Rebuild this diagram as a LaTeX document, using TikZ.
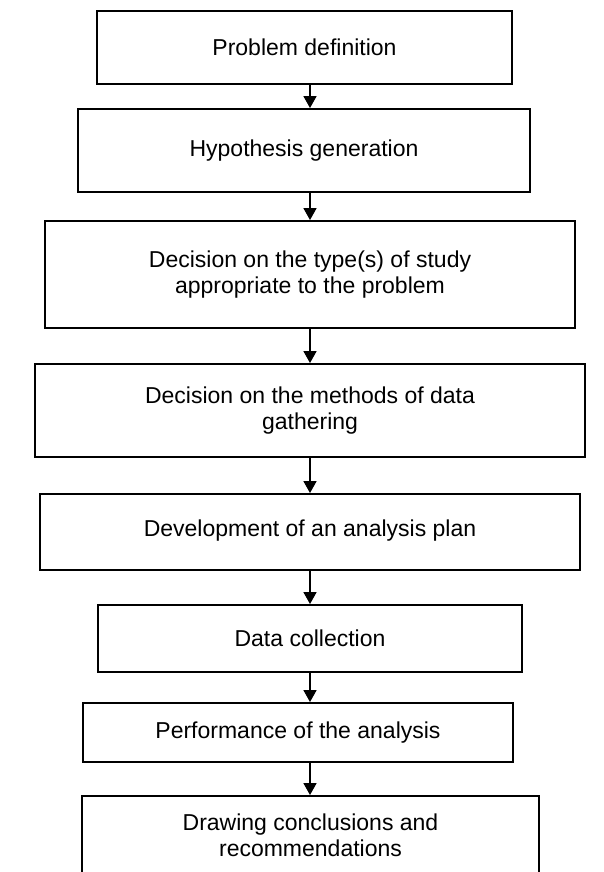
\documentclass[tikz,border=0pt]{standalone}
\usepackage{fontspec}
\setmainfont{Liberation Sans}
\usetikzlibrary{arrows.meta}
\begin{document}
\begin{tikzpicture}[x=1pt,y=-1pt,
  stepbox/.style={draw=black, line width=1.9pt, fill=white, inner sep=0pt,
    align=center, font=\fontsize{23}{26}\selectfont},
  flow/.style={draw=black, line width=1.6pt,
    -{Triangle[width=13pt,length=12pt]}}]
\useasboundingbox (0,0) rectangle (603,872);
\clip (0,0) rectangle (603,872);
\fill[white] (0,0) rectangle (603,872);

% boxes, from top to bottom
\node[stepbox, minimum width=415pt, minimum height=73pt] (b1) at (304.5,47.5) {Problem definition};
\node[stepbox, minimum width=452pt, minimum height=83pt] (b2) at (304,150.5) {Hypothesis generation};
\node[stepbox, minimum width=530pt, minimum height=107pt] (b3) at (310,274.5)
  {Decision on the type(s) of study\\appropriate to the problem};
\node[stepbox, minimum width=550pt, minimum height=93pt] (b4) at (310,410.5)
  {Decision on the methods of data\\gathering};
\node[stepbox, minimum width=540pt, minimum height=76pt] (b5) at (310,532)
  {\raisebox{7pt}{Development of an analysis plan}};
\node[stepbox, minimum width=424pt, minimum height=67pt] (b6) at (310,638.5) {Data collection};
\node[stepbox, minimum width=430pt, minimum height=59pt] (b7) at (298,732.5) {Performance of the analysis};
\node[stepbox, minimum width=457pt, minimum height=79pt] (b8) at (310.5,835.5)
  {Drawing conclusions and\\recommendations};

% common vertical line of the arrows
\coordinate (ax) at (310,0);

\draw[flow] (b1.south -| ax) -- (b2.north -| ax);
\draw[flow] (b2.south -| ax) -- (b3.north -| ax);
\draw[flow] (b3.south -| ax) -- (b4.north -| ax);
\draw[flow] (b4.south -| ax) -- (b5.north -| ax);
\draw[flow] (b5.south -| ax) -- (b6.north -| ax);
\draw[flow] (b6.south -| ax) -- (b7.north -| ax);
\draw[flow] (b7.south -| ax) -- (b8.north -| ax);
\end{tikzpicture}
\end{document}
